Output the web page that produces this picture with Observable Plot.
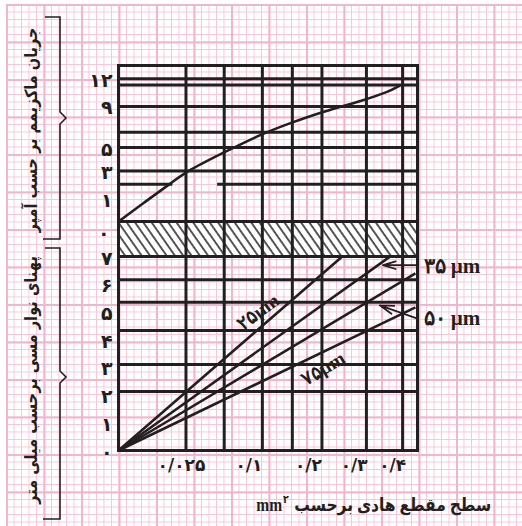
<!DOCTYPE html>
<html><head><meta charset="utf-8">
<script src="https://cdn.jsdelivr.net/npm/d3@7"></script>
<script src="https://cdn.jsdelivr.net/npm/@observablehq/plot@0.6"></script>
<style>
body{margin:0;background:#fff;}
#wrap{position:relative;width:522px;height:526px;overflow:hidden;background:#fff;}
#paper{position:absolute;left:6px;top:4px;right:0;bottom:0;
 background-image:
  linear-gradient(to right, #f3b5ce 2px, transparent 2px),
  linear-gradient(to bottom, #f3b5ce 2px, transparent 2px),
  linear-gradient(to right, #f7c5d9 1.4px, transparent 1.4px),
  linear-gradient(to bottom, #f7c5d9 1.4px, transparent 1.4px);
 background-size:37.5px 37.5px,37.5px 37.5px,7.5px 7.5px,7.5px 7.5px;}
.layer{position:absolute;left:0;}
#xtitle{position:absolute;right:31px;top:494px;font:bold 18px "Liberation Serif","DejaVu Sans",serif;color:#231f20;white-space:nowrap;
  transform:scaleX(0.86);transform-origin:right center;line-height:22px;}
#xtitle sup{font-size:11px;vertical-align:top;line-height:11px;display:inline-block;margin:0 2px 0 1px;}
</style></head>
<body>
<div id="wrap"><div id="paper"></div></div>
<script>
// ---- data ----
const xGrid = [0.022, 0.054, 0.1, 0.146, 0.2, 0.297, 0.39];          // vertical grid (mm²)
const xTickValues = [0.025, 0.1, 0.2, 0.3, 0.4];
const xTickLabels = ["۰/۰۲۵", "۰/۱", "۰/۲", "۰/۳", "۰/۴"];
const topGrid = [3, 5, 6.4, 9, 11.3, 12];                              // A
const topPartialValue = 2;
const topPartialSpans = [[0, 0.014], [0.047, 0.432]];
const topTickValues = [1, 3, 5, 9, 12];
const topTickLabels = ["۱", "۳", "۵", "۹", "۱۲"];
const topZeroLabel = "۰";
const bottomGrid = [2.13, 3.1, 4.33, 5.35, 6.16, 7];                    // mm
const bottomTickValues = [0, 1, 2, 3, 4, 5, 6, 7];
const bottomTickLabels = ["۰", "۱", "۲", "۳", "۴", "۵", "۶", "۷"];
const currentArea = [0, 0.0035, 0.0131, 0.023, 0.0574, 0.1, 0.1396, 0.201, 0.2947, 0.352, 0.381];
const currentAmp  = [0, 0.87, 2.05, 3.03, 4.71, 6.27, 7.24, 8.45, 9.7, 10.55, 11.2];
const thickness = ["25", "35", "50", "75"];
const thicknessLabels = ["۲۵µm", "۳۵ µm", "۵۰ µm", "۷۵µm"];
const thicknessEndArea  = [0.242, 0.357, 0.426, 0.426];
const thicknessEndWidth = [7, 7, 6.39, 5.16];
const xMax = 0.432, topMax = 13.5, hatchBottom = 7, hatchTop = 8.26;
const arrowTailWidth50 = 4.76;
const currentTitle = "جریان ماکزیمم بر حسب آمپر";
const widthTitle = "پهنای نوار مسی برحسب میلی متر";

// ---- build ----
const ink = "#231f20";
const W = 522, mL = 118, mR = 105;
const numFont = "DejaVu Sans";
const curveData = currentArea.map((a, i) => ({a, v: currentAmp[i]}));
const lines = thickness.map((t, i) => ({t, label: thicknessLabels[i], a: thicknessEndArea[i], w: thicknessEndWidth[i]}));
const along = (l, s) => ({a: l.a * s * s, w: l.w * s});
const xTicks = xTickValues.map((v, i) => ({v, label: xTickLabels[i]}));
const tickStyle = {fontWeight: "bold", fontFamily: numFont, fill: ink};

const topPlot = Plot.plot({
  width: W, height: 256, marginLeft: mL, marginRight: mR, marginTop: 65, marginBottom: 35,
  x: {type: "sqrt", domain: [0, xMax], axis: null},
  y: {type: "pow", exponent: 0.75, domain: [0, topMax], axis: null},
  style: {background: "transparent", overflow: "visible"},
  marks: [
    Plot.ruleY(topGrid, {stroke: ink, strokeWidth: 3}),
    Plot.link(topPartialSpans, {x1: d => d[0], x2: d => d[1], y1: topPartialValue, y2: topPartialValue, stroke: ink, strokeWidth: 3}),
    Plot.ruleX(xGrid, {stroke: ink, strokeWidth: 3}),
    Plot.line(curveData, {x: "a", y: "v", curve: "basis", stroke: ink, strokeWidth: 2.6}),
    Plot.frame({stroke: ink, strokeWidth: 3}),
    Plot.text(topTickValues, {y: d => d, text: (d, i) => topTickLabels[i], frameAnchor: "left", textAnchor: "end",
      dx: -6, dy: 2, fontSize: 19, ...tickStyle}),
    Plot.text([0], {y: d => d, text: () => topZeroLabel, frameAnchor: "left", textAnchor: "end",
      dx: -9, dy: 12, fontSize: 19, ...tickStyle})
  ]
});

const bottomPlot = Plot.plot({
  width: W, height: 305, marginLeft: mL, marginRight: mR, marginTop: 0, marginBottom: 76,
  x: {type: "sqrt", domain: [0, xMax], axis: null},
  y: {domain: [0, hatchTop], axis: null},
  style: {background: "transparent", overflow: "visible"},
  marks: [
    Plot.rect([0], {x1: 0, x2: xMax, y1: hatchBottom, y2: hatchTop, fill: "url(#hatch)"}),
    Plot.ruleY(bottomGrid, {stroke: ink, strokeWidth: 3}),
    Plot.ruleX(xGrid, {stroke: ink, strokeWidth: 3}),
    Plot.link(lines, {x1: 0, y1: 0, x2: "a", y2: "w", stroke: ink, strokeWidth: 2.6}),
    Plot.frame({stroke: ink, strokeWidth: 3}),
    Plot.text(bottomTickValues, {y: d => d, text: (d, i) => bottomTickLabels[i], frameAnchor: "left", textAnchor: "end",
      dx: -6, dy: 2, fontSize: 19, ...tickStyle}),
    Plot.text(xTicks.slice(0, 1), {x: "v", text: "label", frameAnchor: "bottom", textAnchor: "middle",
      dx: -9, dy: 20, fontSize: 17, ...tickStyle}),
    Plot.text(xTicks.slice(1), {x: "v", text: "label", frameAnchor: "bottom", textAnchor: "end",
      dx: 0, dy: 20, fontSize: 17, ...tickStyle}),
    // rotated labels along lines
    Plot.text([lines[0]], {x: d => along(d, 0.625).a, y: d => along(d, 0.625).w, text: "label", rotate: -37,
      dy: -17, fontSize: 19, fontWeight: "bold", fontFamily: "Liberation Serif", fill: ink}),
    Plot.text([lines[3]], {x: d => along(d, 0.69).a, y: d => along(d, 0.69).w, text: "label", rotate: -31,
      dy: 17, fontSize: 19, fontWeight: "bold", fontFamily: "Liberation Serif", fill: ink}),
    // arrows with labels
    Plot.arrow([lines[1]], {x1: xMax, y1: d => along(d, 0.955).w, x2: d => along(d, 0.955).a, y2: d => along(d, 0.955).w,
      stroke: ink, strokeWidth: 1.8, headLength: 12, headAngle: 34, insetEnd: 5}),
    Plot.arrow([lines[2]], {x1: xMax, y1: arrowTailWidth50, x2: d => along(d, 0.842).a, y2: d => along(d, 0.842).w,
      stroke: ink, strokeWidth: 1.8, headLength: 12, headAngle: 34, insetEnd: 12}),
    Plot.text([lines[1]], {x: xMax, y: d => along(d, 0.955).w, text: "label", textAnchor: "start", dx: 6, dy: 1,
      fontSize: 21, fontWeight: "bold", fontFamily: "Liberation Serif", fill: ink}),
    Plot.text([lines[2]], {x: xMax, y: arrowTailWidth50, text: "label", textAnchor: "start", dx: 6, dy: 0,
      fontSize: 21, fontWeight: "bold", fontFamily: "Liberation Serif", fill: ink})
  ]
});

// defs: hatch pattern
const defs = d3.select(bottomPlot).insert("defs", ":first-child");
const pat = defs.append("pattern").attr("id", "hatch").attr("patternUnits", "userSpaceOnUse")
  .attr("width", 6.8).attr("height", 6.8).attr("patternTransform", "rotate(-35)");
pat.append("rect").attr("width", 6.8).attr("height", 6.8).attr("fill", "#fff");
pat.append("line").attr("x1", 1).attr("x2", 1).attr("y1", -1).attr("y2", 8).attr("stroke", ink).attr("stroke-width", 1.5);

const wrap = document.getElementById("wrap");
topPlot.classList.add("layer"); topPlot.style.top = "0px";
bottomPlot.classList.add("layer"); bottomPlot.style.top = "221px";
wrap.appendChild(topPlot);
wrap.appendChild(bottomPlot);

// overlay: braces and rotated titles
const ov = d3.select(wrap).append("svg").attr("class", "layer").style("top", "0px")
  .attr("width", W).attr("height", 526);
function brace(y0, y1, ym) {
  ov.append("path").attr("d", `M45,${y0}H60V${ym - 6}L66,${ym}L60,${ym + 6}V${y1}H43`)
    .attr("fill", "none").attr("stroke", ink).attr("stroke-width", 1.6);
}
brace(17, 239, 118);
brace(248, 519, 377);
function vtitle(text, cy, len) {
  const g = ov.append("g");
  const t = g.append("text").attr("text-anchor", "middle")
    .attr("font-family", "DejaVu Sans").attr("font-weight", "bold").attr("font-size", 17).attr("fill", ink)
    .text(text);
  const w = t.node().getComputedTextLength() || len;
  g.attr("transform", `translate(37,${cy}) rotate(-90) scale(${Math.min(1, len / w)},1)`);
}
vtitle(currentTitle, 130, 205);
vtitle(widthTitle, 380, 248);

const xt = document.createElement("div");
xt.id = "xtitle"; xt.dir = "rtl";
xt.innerHTML = "سطح مقطع هادی برحسب <span dir=\"ltr\" style=\"unicode-bidi:isolate\">mm<sup>۲</sup></span>";
wrap.appendChild(xt);
</script>
</body></html>
